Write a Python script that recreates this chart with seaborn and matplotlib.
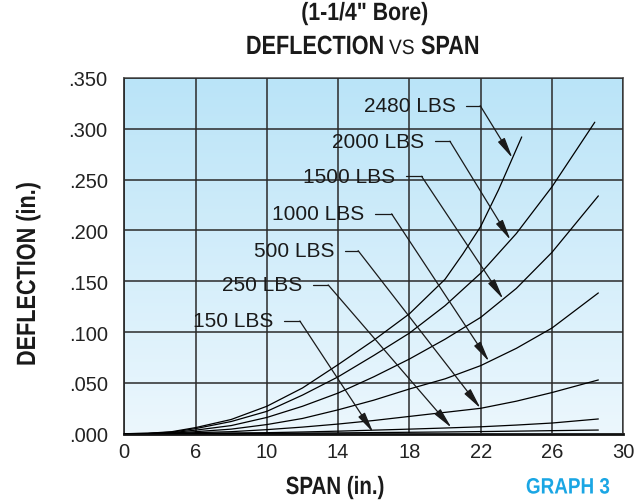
import numpy as np
import pandas as pd
import matplotlib
matplotlib.use("Agg")
import matplotlib.pyplot as plt
from matplotlib.patheffects import AbstractPathEffect
from matplotlib.transforms import Affine2D
import seaborn as sns

# ---------------- data ----------------
loads = ["2480 LBS", "2000 LBS", "1500 LBS", "1000 LBS", "500 LBS", "250 LBS", "150 LBS"]

span_2480 = [0, 2, 4, 6, 8, 10, 12, 14, 16, 18, 20, 21, 22, 23, 24.3]
defl_2480 = [0, 0.0004, 0.002, 0.006, 0.014, 0.027, 0.045, 0.068, 0.092, 0.118, 0.152, 0.177, 0.204, 0.240, 0.292]

span_std = [0, 2, 4, 6, 8, 10, 12, 14, 16, 18, 20, 22, 24, 26, 28.6]
span_2000 = [0, 2, 4, 6, 8, 10, 12, 14, 16, 18, 20, 22, 24, 26, 28.4]
defl_2000 = [0, 0.0003, 0.0015, 0.005, 0.012, 0.022, 0.038, 0.056, 0.077, 0.099, 0.126, 0.158, 0.197, 0.243, 0.3065]
defl_1500 = [0, 0.0002, 0.001, 0.0035, 0.008, 0.016, 0.027, 0.040, 0.056, 0.0735, 0.093, 0.1145, 0.143, 0.1785, 0.234]
defl_1000 = [0, 0.0001, 0.0006, 0.002, 0.0045, 0.009, 0.015, 0.0235, 0.033, 0.044, 0.054, 0.067, 0.084, 0.104, 0.1385]
defl_500 = [0, 0.0001, 0.0003, 0.001, 0.002, 0.004, 0.0065, 0.0095, 0.013, 0.017, 0.021, 0.025, 0.032, 0.0405, 0.0529]
defl_250 = [0, 0, 0.0001, 0.0004, 0.0007, 0.001, 0.0017, 0.0025, 0.0035, 0.0045, 0.0056, 0.0068, 0.0085, 0.0105, 0.0145]
defl_150 = [0, 0, 0, 0.0001, 0.0002, 0.0004, 0.0006, 0.0008, 0.0011, 0.0014, 0.0017, 0.0021, 0.0025, 0.0030, 0.0036]

spans = [span_2480, span_2000, span_std, span_std, span_std, span_std, span_std]
defls = [defl_2480, defl_2000, defl_1500, defl_1000, defl_500, defl_250, defl_150]

# label / leader geometry (positions, in span / deflection units)
label_y = [0.3228, 0.2878, 0.2533, 0.2163, 0.1801, 0.1464, 0.1109]
leader_x0 = [21.20, 19.43, 17.78, 16.06, 14.38, 12.60, 10.96]
leader_x1 = [21.97, 20.27, 18.68, 17.00, 15.12, 13.44, 11.85]
tip_span = [23.78, 23.67, 23.26, 22.47, 21.99, 20.36, 15.97]

x_ticks = [0, 6, 10, 14, 18, 22, 26, 30]
y_ticks = [0, 0.05, 0.10, 0.15, 0.20, 0.25, 0.30, 0.35]
y_tick_labels = [".000", ".050", ".100", ".150", ".200", ".250", ".300", ".350"]

# ---------------- helpers ----------------
W, H = 640, 502


class Condense(AbstractPathEffect):
    """Horizontally (or vertically) squeeze text about an anchor pixel."""

    def __init__(self, sx, sy, cx, cy):
        super().__init__()
        self._t = Affine2D().translate(-cx, -cy).scale(sx, sy).translate(cx, cy)

    def draw_path(self, renderer, gc, tpath, affine, rgbFace=None):
        renderer.draw_path(gc, tpath, affine + self._t, rgbFace)


def ctext(px, py, s, ha="center", va="center", factor=0.82, rotation=0, **kw):
    x, y = px / W, 1 - py / H
    cx, cy = px, H - py
    if rotation == 90:
        eff = Condense(1.0, factor, cx, cy)
    else:
        eff = Condense(factor, 1.0, cx, cy)
    fig.text(x, y, s, ha=ha, va=va, rotation=rotation, path_effects=[eff], **kw)


# ---------------- figure ----------------
sns.set_theme(style="white")
plt.rcParams["font.family"] = ["Liberation Sans", "DejaVu Sans"]

fig = plt.figure(figsize=(W / 100, H / 100), dpi=100)
ax = fig.add_axes([124.3 / W, 1 - 434.7 / H, (623.3 - 124.3) / W, (434.7 - 79) / H])

# background gradient
grad = np.linspace(0, 1, 256).reshape(-1, 1)
top = np.array([186, 228, 248]) / 255
bot = np.array([236, 247, 253]) / 255
img = top[None, None, :] * (1 - grad[:, :, None]) + bot[None, None, :] * grad[:, :, None]
ax.imshow(img, extent=[0, 1, 0, 1], transform=ax.transAxes, aspect="auto", zorder=0)

rows = []
for name, s, d in zip(loads, spans, defls):
    for a, b in zip(s, d):
        rows.append((name, a, b))
df = pd.DataFrame(rows, columns=["load", "span", "defl"])

sns.lineplot(data=df, x="span", y="defl", units="load", estimator=None,
             color="black", lw=0.9, ax=ax, zorder=3, legend=False)


def fwd(x):
    x = np.asarray(x, dtype=float)
    return np.where(x < 6, 2 + x * 2.0 / 3.0, x)


def inv(u):
    u = np.asarray(u, dtype=float)
    return np.where(u < 6, (u - 2) * 1.5, u)


ax.set_xscale("function", functions=(fwd, inv))
ax.set_xlim(0, 30)
ax.set_ylim(0, 0.35)
ax.set_xticks(x_ticks)
ax.set_xticklabels([str(t) for t in x_ticks])
ax.set_yticks(y_ticks)
ax.set_yticklabels(y_tick_labels)
ax.minorticks_off()
ax.tick_params(axis="both", length=0, labelsize=14.5, colors="#222222")
ax.tick_params(axis="x", pad=6)
ax.tick_params(axis="y", pad=12)
ax.set_xlabel("")
ax.set_ylabel("")
ax.grid(True, color="#2a2a2a", lw=1.1, zorder=1)
ax.set_axisbelow(False)
for sp in ax.spines.values():
    sp.set_color("#555555")
    sp.set_linewidth(1.2)
ax.spines["bottom"].set_color("#111111")
ax.spines["bottom"].set_linewidth(2.0)
ax.spines["left"].set_color("#222222")

# labels and leaders
for name, s, d, ly, x0, x1, ts in zip(loads, spans, defls, label_y, leader_x0, leader_x1, tip_span):
    ty = float(np.interp(ts, s, d))
    ax.text(x0 - 0.6, ly, name, ha="right", va="center", fontsize=15,
            color="#1a1a1a", zorder=5)
    ax.plot([x0, x1], [ly, ly], color="#1a1a1a", lw=0.9, zorder=4)
    ax.annotate("", xy=(ts, ty), xytext=(x1, ly),
                arrowprops=dict(arrowstyle="-|>,head_length=0.9,head_width=0.17",
                                color="#1a1a1a", lw=0.9, shrinkA=0, shrinkB=0,
                                mutation_scale=14),
                zorder=4)

# titles and axis labels (condensed bold, like the original)
ink = "#1a1a1a"
ctext(365, 21, "(1-1/4\" Bore)", va="baseline", factor=0.85, fontsize=18,
      fontweight="bold", color=ink)
ctext(384, 55, "DEFLECTION", ha="right", va="baseline", fontsize=19,
      fontweight="bold", color=ink)
ctext(389, 55, "VS", ha="left", va="baseline", factor=0.92, fontsize=15,
      color=ink)
ctext(421, 55, "SPAN", ha="left", va="baseline", fontsize=19,
      fontweight="bold", color=ink)

ctext(335, 488, "SPAN (in.)", fontsize=18, fontweight="bold", color=ink)
ctext(28, 275, "DEFLECTION (in.)", rotation=90, fontsize=19,
      fontweight="bold", color=ink)
ctext(568, 489, "GRAPH 3", factor=0.85, fontsize=16, fontweight="bold",
      color="#1aa6e4")

fig.savefig("out.png", dpi=100)
